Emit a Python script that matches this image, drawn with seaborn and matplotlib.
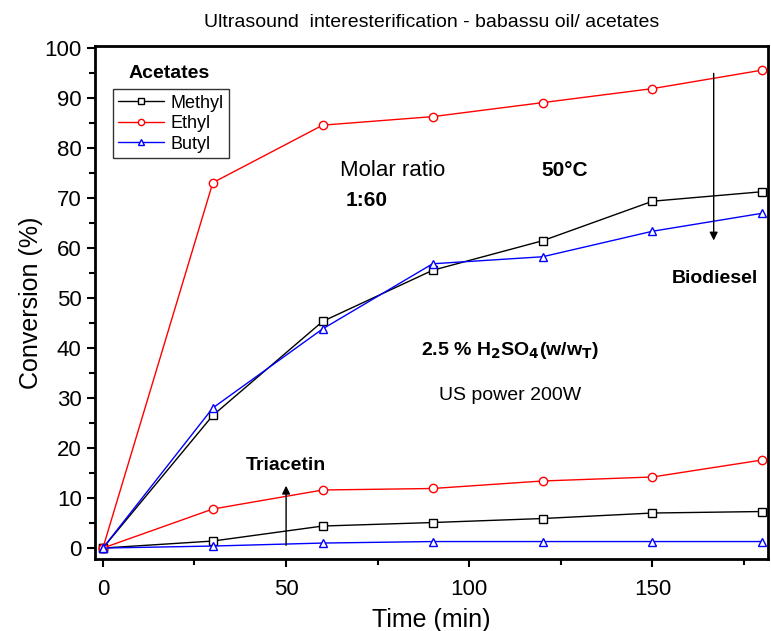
import numpy as np
import pandas as pd
import seaborn as sns
import matplotlib.pyplot as plt

# data
time = [0, 30, 60, 90, 120, 150, 180]
acetates = ['Methyl', 'Ethyl', 'Butyl']
# biodiesel conversion
bio_methyl = [0, 26.5, 45.3, 55.5, 61.4, 69.3, 71.2]
bio_ethyl = [0, 73.0, 84.5, 86.2, 89.0, 91.8, 95.5]
bio_butyl = [0, 28.0, 43.8, 56.8, 58.2, 63.3, 66.9]
# triacetin conversion
tri_methyl = [0, 1.4, 4.4, 5.1, 5.9, 7.0, 7.3]
tri_ethyl = [0, 7.8, 11.6, 11.9, 13.4, 14.2, 17.6]
tri_butyl = [0, 0.4, 1.0, 1.3, 1.3, 1.3, 1.3]

sns.set_style('ticks')
plt.rcParams['font.family'] = ['Liberation Sans', 'DejaVu Sans']
plt.rcParams['text.color'] = 'black'
plt.rcParams['axes.labelcolor'] = 'black'
plt.rcParams['xtick.color'] = 'black'
plt.rcParams['ytick.color'] = 'black'
plt.rcParams['axes.edgecolor'] = 'black'

fig = plt.figure(figsize=(7.71, 6.31), dpi=100)
ax = fig.add_axes([0.123, 0.114, 0.873, 0.813])

colors = {'Methyl': 'black', 'Ethyl': 'red', 'Butyl': 'blue'}
markers = {'Methyl': 's', 'Ethyl': 'o', 'Butyl': '^'}
bio = {'Methyl': bio_methyl, 'Ethyl': bio_ethyl, 'Butyl': bio_butyl}
tri = {'Methyl': tri_methyl, 'Ethyl': tri_ethyl, 'Butyl': tri_butyl}

for name in acetates:
    for series, lab in [(bio[name], name), (tri[name], None)]:
        df = pd.DataFrame({'t': time, 'c': series})
        sns.lineplot(data=df, x='t', y='c', ax=ax, color=colors[name], lw=1,
                     marker=markers[name], markersize=6, mfc='white',
                     mec=colors[name], mew=1, label=lab, legend=False)

ax.set_xlim(-2.2, 181.5)
ax.set_ylim(-2.2, 100.3)
ax.set_xticks([0, 50, 100, 150])
ax.set_xticks([25, 75, 125, 175], minor=True)
ax.set_yticks(np.arange(0, 101, 10))
ax.set_yticks(np.arange(5, 100, 10), minor=True)
ax.tick_params(which='major', direction='out', length=6, width=1.5, labelsize=16)
ax.tick_params(which='minor', direction='out', length=4, width=1.5)
ax.tick_params(axis='x', which='major', pad=8)
for s in ax.spines.values():
    s.set_linewidth(2)
ax.set_xlabel('Time (min)', fontsize=18, labelpad=6)
ax.set_ylabel('Conversion (%)', fontsize=18, labelpad=1)
ax.set_title('Ultrasound  interesterification - babassu oil/ acetates', fontsize=14, pad=14)

leg = ax.legend(loc='upper left', bbox_to_anchor=(0.027, 0.916), fontsize=13,
                frameon=True, fancybox=False, edgecolor='#333333', framealpha=1,
                handlelength=2.5, borderpad=0.3, labelspacing=0.2, borderaxespad=0,
                handletextpad=0.4, markerscale=0.75)
leg.get_frame().set_linewidth(1)
ax.text(0.111, 0.947, 'Acetates', transform=ax.transAxes, fontsize=14,
        fontweight='bold', ha='center', va='center')

txt = dict(ha='center', va='center')
ax.text(79, 75.5, 'Molar ratio', fontsize=16, **txt)
ax.text(72, 69.5, '1:60', fontsize=15, fontweight='bold', **txt)
ax.text(126, 75.5, '50°C', fontsize=15, fontweight='bold', **txt)
ax.text(167, 53.8, 'Biodiesel', fontsize=14, fontweight='bold', **txt)
ax.text(111, 39.5, r'2.5 % H$_\mathbf{2}$SO$_\mathbf{4}$(w/w$_\mathbf{T}$)', fontsize=14,
        fontweight='bold', **txt)
ax.text(111, 30.5, 'US power 200W', fontsize=14, **txt)
ax.text(50, 16.5, 'Triacetin', fontsize=14, fontweight='bold', **txt)

ax.annotate('', xy=(166.7, 60.9), xytext=(166.7, 95.4),
            arrowprops=dict(arrowstyle='-|>', color='black', lw=1, mutation_scale=12))
ax.annotate('', xy=(50, 13), xytext=(50, 0),
            arrowprops=dict(arrowstyle='-|>', color='black', lw=1, mutation_scale=12))

fig.savefig('out.png', dpi=100)
